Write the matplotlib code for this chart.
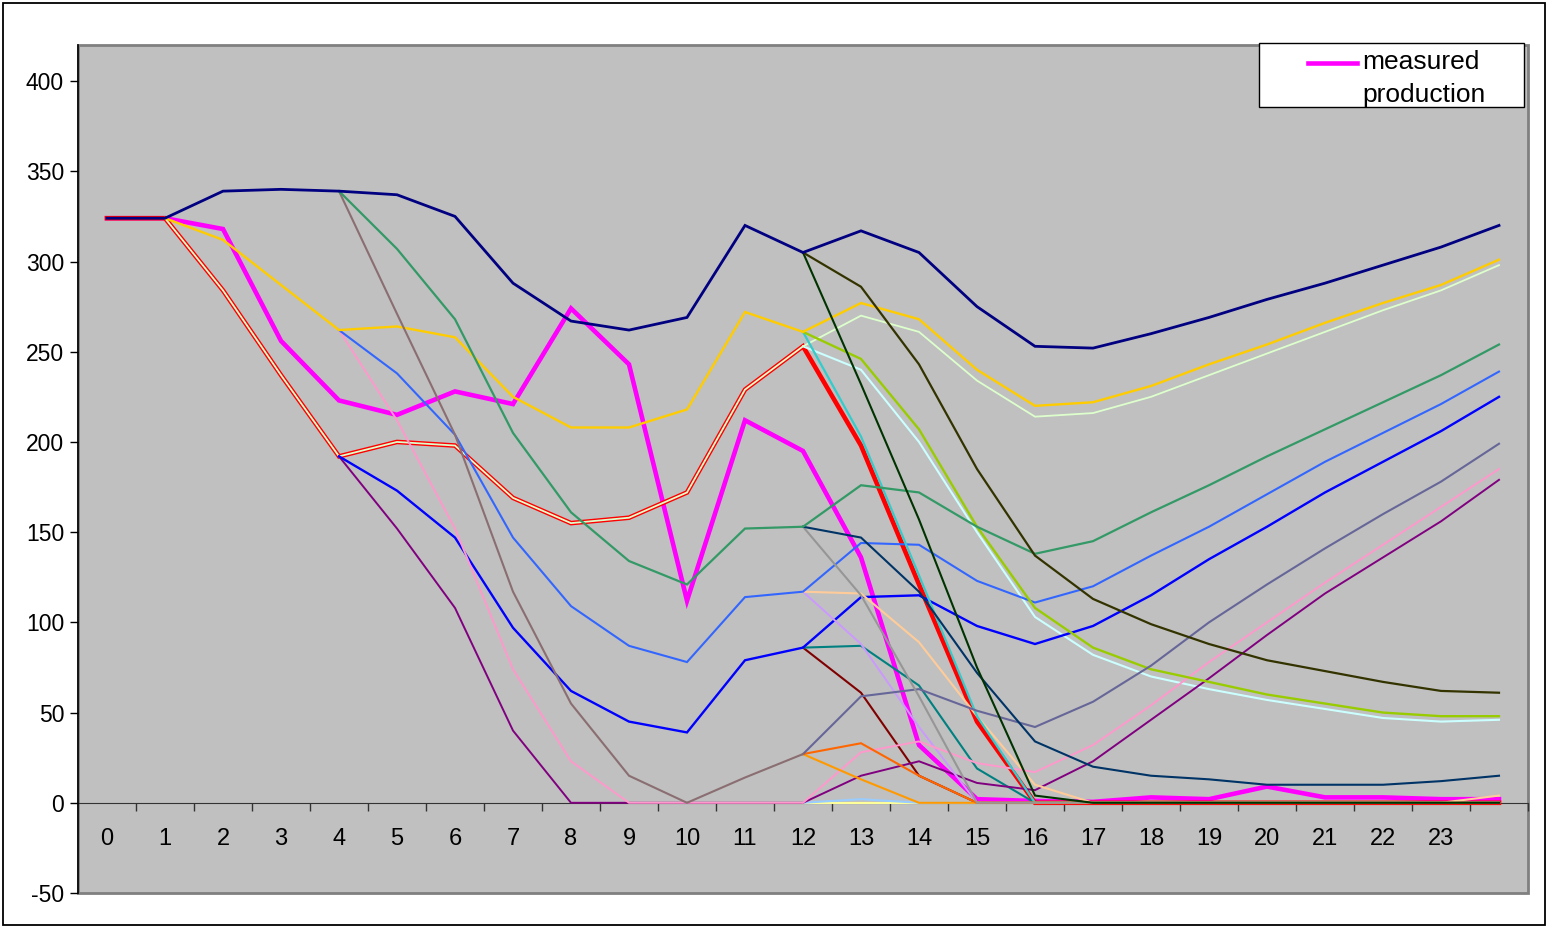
import matplotlib
matplotlib.use("Agg")
import matplotlib.pyplot as plt
import numpy as np
from matplotlib.lines import Line2D
from matplotlib.patches import Rectangle

plt.rcParams["font.family"] = ["Liberation Sans", "DejaVu Sans"]
plt.rcParams["axes.unicode_minus"] = False

hours = list(range(25))
hour_labels = [str(h) for h in range(24)] + [""]
y_ticks = [-50, 0, 50, 100, 150, 200, 250, 300, 350, 400]

# forecast branches: each list starts at the hour given next to it in `series`
measured = [324, 324, 318, 256, 223, 215, 228, 221, 274, 243, 112, 212, 195, 136, 32, 2, 1, 0.5, 3, 2, 9, 3, 3, 2, 2]
navy = [324, 324, 339, 340, 339, 337, 325, 288, 267, 262, 269, 320, 305, 317, 305, 275, 253, 252, 260, 269, 279, 288, 298, 308, 320]
red = [324, 324, 284, 237, 192, 200, 198, 169, 155, 158, 172, 229, 253, 198, 121, 45, 0, 0, 0, 0, 0, 0, 0, 0, 0]

# from hour 1
yellow = [324, 312, 287, 262, 264, 258, 225, 208, 208, 218, 272, 261, 277, 268, 240, 220, 222, 231, 243, 254, 266, 277, 287, 301]
pale_green = [324, 284, 237, 192, 200, 198, 169, 155, 158, 172, 229, 253, 270, 261, 234, 214, 216, 225, 237, 249, 261, 273, 284, 298]

# from hour 4
sea_green = [339, 307, 268, 205, 161, 134, 121, 152, 153, 176, 172, 153, 138, 145, 161, 176, 192, 207, 222, 237, 254]
brown = [339, 271, 204, 117, 55, 15, 0, 14, 27]
blueish = [262, 238, 204, 147, 109, 87, 78, 114, 117, 144, 143, 123, 111, 120, 137, 153, 171, 189, 205, 221, 239]
pink = [262, 212, 152, 74, 23, 0, 0, 0, 0, 28, 34, 22, 17, 32, 54, 78, 100, 122, 143, 164, 185]
blue = [192, 173, 147, 97, 62, 45, 39, 79, 86, 114, 115, 98, 88, 98, 115, 135, 153, 172, 189, 206, 225]
purple = [192, 152, 108, 40, 0, 0, 0, 0, 0, 15, 23, 11, 7, 23, 46, 69, 93, 116, 136, 156, 179]

# from hour 12
olive = [305, 286, 243, 185, 137, 113, 99, 88, 79, 73, 67, 62, 61]
dark_green = [305, 232, 157, 75, 4, 0, 0, 0, 0, 0, 0, 0, 0]
dark_blue = [153, 147, 117, 72, 34, 20, 15, 13, 10, 10, 10, 12, 15]
gray = [153, 115, 59, 0, 0, 0, 0, 0, 0, 0, 0, 0, 0]
lav_gray = [27, 59, 63, 51, 42, 56, 76, 100, 121, 141, 160, 178, 199]
orange = [27, 33, 15, 0, 0, 0, 0, 0, 0, 0, 0, 0, 0]
light_orange = [27, 13, 0, 0, 0, 0, 0, 0, 0, 0, 0, 0, 0]
green_yellow = [261, 246, 207, 153, 108, 86, 74, 67, 60, 55, 50, 48, 48]
turquoise = [261, 203, 126, 48, 0, 0, 0, 0, 0, 0, 0, 0, 0]
peach = [117, 116, 89, 48, 10, 0, 0, 0, 0, 0, 0, 0, 4]
lavender = [117, 88, 42, 0, 0, 0, 0, 0, 0, 0, 0, 0, 0]
pale_cyan = [253, 240, 200, 150, 103, 82, 70, 63, 57, 52, 47, 45, 46]
teal = [86, 87, 65, 19, 0, 0, 0, 0, 0, 0, 0, 0, 0]
dark_red = [86, 61, 15, 0, 0, 0, 0, 0, 0, 0, 0, 0, 0]
light_blue = [0, 2, 0, 0, 0, 0, 0, 0, 0, 0, 0, 0, 0]
light_yellow = [0, 0, 0, 0, 0, 0, 0, 0, 0, 0, 0, 0, 0]

# (values, start hour, colour, width) in drawing order
series = [
    (measured, 0, "#FF00FF", 3.3),
    (red, 0, "#FF0000", 3.3),
    (pale_cyan, 12, "#CCFFFF", 1.5),
    (pale_green, 1, "#DDFFCC", 1.3),
    (light_yellow, 12, "#FFFF99", 1.5),
    (light_blue, 12, "#99CCFF", 1.5),
    (dark_red, 12, "#800000", 1.5),
    (teal, 12, "#008080", 1.5),
    (purple, 4, "#800080", 1.4),
    (blue, 4, "#0000FF", 1.7),
    (lavender, 12, "#CC99FF", 1.4),
    (peach, 12, "#FFCC99", 1.5),
    (pink, 4, "#FF99CC", 1.4),
    (blueish, 4, "#3366FF", 1.5),
    (turquoise, 12, "#33CCCC", 1.6),
    (green_yellow, 12, "#99CC00", 1.7),
    (yellow, 1, "#FFCC00", 1.7),
    (light_orange, 12, "#FF9900", 1.5),
    (orange, 12, "#FF6600", 1.5),
    (lav_gray, 12, "#666699", 1.5),
    (brown, 4, "#8A6E72", 1.5),
    (gray, 12, "#969696", 1.5),
    (dark_blue, 12, "#003366", 1.5),
    (sea_green, 4, "#339966", 1.6),
    (dark_green, 12, "#003300", 1.5),
    (olive, 12, "#333300", 1.6),
    (navy, 0, "#000080", 2.0),
]

fig = plt.figure(figsize=(15.48, 9.27), dpi=100)
ax = fig.add_axes([78 / 1548, 1 - 893 / 927, 1450 / 1548, 848 / 927])
ax.set_facecolor("#C0C0C0")

for values, start, color, width in series:
    xs = hours[start:start + len(values)]
    ax.plot(xs, values, color=color, lw=width, solid_joinstyle="miter", zorder=3)

ax.set_xlim(-0.5, 24.5)
ax.set_ylim(-50, 420)

ax.set_yticks(y_ticks)
ax.tick_params(axis="y", direction="out", length=6, width=1, pad=4, labelsize=16.5, colors="black")

ax.set_xticks(hours)
ax.set_xticklabels(hour_labels)
ax.set_xticks(np.arange(0.5, 25, 1), minor=True)
ax.tick_params(axis="x", which="major", length=0, pad=18, labelsize=17)
ax.tick_params(axis="x", which="minor", direction="out", length=6, width=1, color="#333333")

for side in ("top", "right"):
    ax.spines[side].set_visible(False)
ax.spines["bottom"].set_position(("data", 0))
ax.spines["bottom"].set_color("#333333")
ax.spines["left"].set_linewidth(1.2)
ax.spines["bottom"].set_zorder(2)
ax.add_patch(Rectangle((0, 0), 1, 1, transform=ax.transAxes, fill=False,
                       edgecolor="#808080", lw=2, clip_on=False, zorder=1))

# legend box (only the measured series is listed)
fig.add_artist(Rectangle((1259 / 1548, 1 - 107 / 927), 265 / 1548, 64 / 927,
                         transform=fig.transFigure, facecolor="white", edgecolor="black", lw=1, zorder=5))
fig.add_artist(Line2D([1308 / 1548, 1357 / 1548], [1 - 63 / 927, 1 - 63 / 927],
                      transform=fig.transFigure, color="#FF00FF", lw=3.3, zorder=6))
fig.text(1362 / 1548, 1 - 50 / 927, "measured\nproduction", fontsize=19, va="top", ha="left",
         linespacing=1.45, zorder=6)

fig.add_artist(Rectangle((3 / 1548, 2 / 927), 1542 / 1548, 922 / 927, transform=fig.transFigure,
                         fill=False, edgecolor="black", lw=1.3))

fig.savefig("out.png", dpi=100)
